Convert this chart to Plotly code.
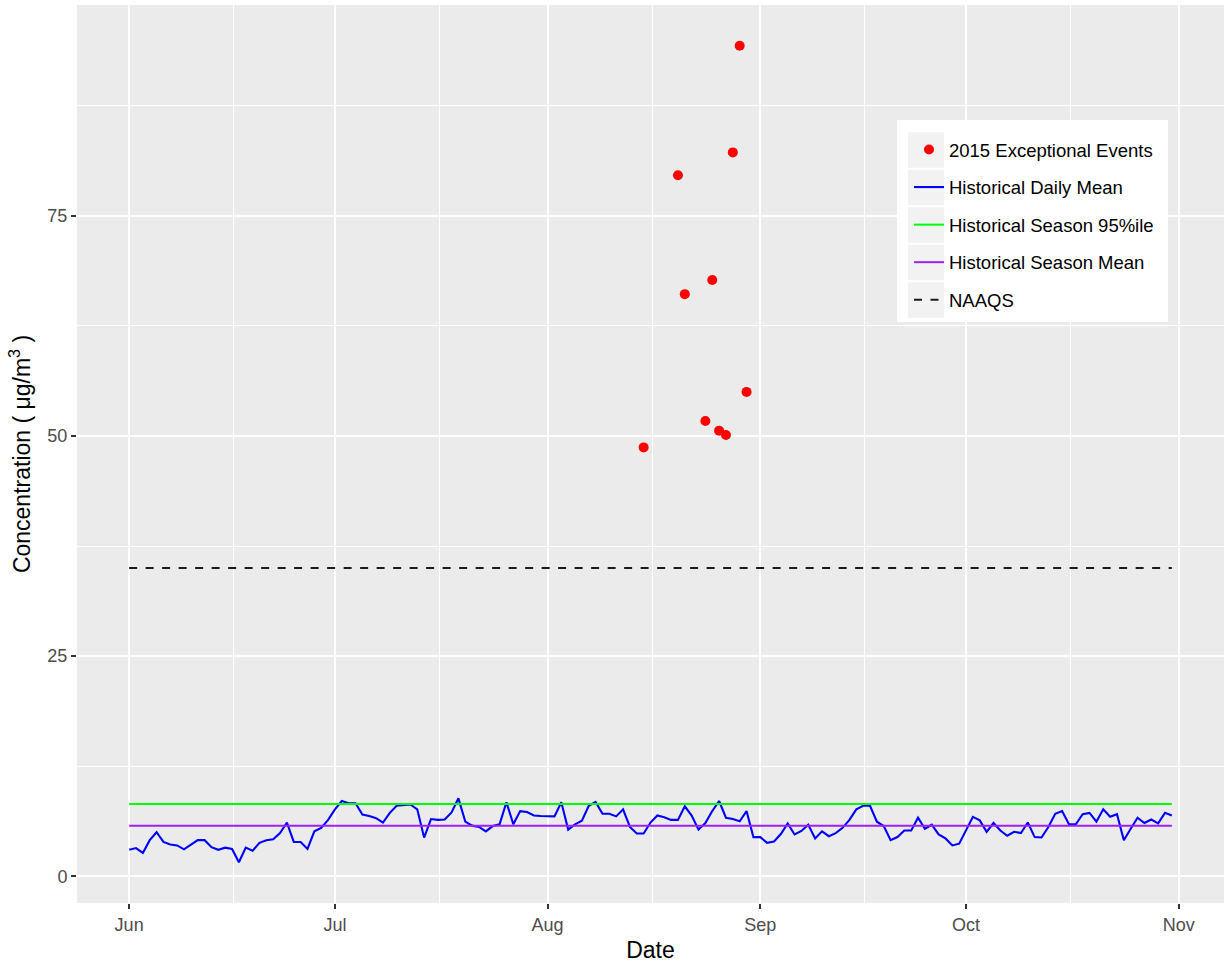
import pandas as pd
import plotly.graph_objects as go

# ---------------- data ----------------
start_date = "2015-06-01"
end_date = "2015-10-31"

daily_mean = [
    3.0, 3.2, 2.65, 4.1, 5.0, 3.9, 3.6, 3.5, 3.06, 3.6,
    4.1, 4.1, 3.3, 3.0, 3.25, 3.1, 1.6, 3.25, 2.9, 3.8,
    4.1, 4.2, 4.9, 6.1, 3.9, 3.9, 3.1, 5.1, 5.5, 6.4,
    7.6, 8.55, 8.3, 8.3, 7.0, 6.85, 6.6, 6.1, 7.2, 8.0,
    8.1, 8.15, 7.6, 4.4, 6.5, 6.4, 6.45, 7.25, 8.85,
    6.2, 5.75, 5.6, 5.1, 5.7, 5.9, 8.4, 5.9, 7.4, 7.3,
    6.9, 6.85, 6.85, 6.8, 8.4, 5.3, 5.9, 6.3, 8.0, 8.45,
    7.1, 7.1, 6.8, 7.6, 5.6, 4.85, 4.85, 6.1, 6.9, 6.7,
    6.4, 6.4, 7.95, 6.9, 5.3, 6.05, 7.4, 8.55, 6.65, 6.5,
    6.25, 7.4, 4.45, 4.45, 3.8, 3.95, 4.8, 6.0, 4.75, 5.15,
    5.85, 4.3, 5.1, 4.55, 4.9, 5.5, 6.4, 7.6, 8.0, 8.0,
    6.2, 5.7, 4.1, 4.45, 5.2, 5.2, 6.65, 5.4, 5.85, 4.75,
    4.3, 3.5, 3.7, 5.15, 6.75, 6.35, 5.05, 6.05, 5.2, 4.6,
    5.05, 4.9, 6.1, 4.45, 4.4, 5.6, 7.1, 7.4, 5.9, 5.9,
    7.05, 7.2, 6.2, 7.6, 6.75, 7.05, 4.1, 5.4, 6.65, 6.05,
    6.45, 6.0, 7.2, 6.9,
]

event_dates = ["2015-08-15", "2015-08-20", "2015-08-21", "2015-08-24", "2015-08-25",
               "2015-08-26", "2015-08-27", "2015-08-28", "2015-08-29", "2015-08-30"]
event_values = [48.7, 79.6, 66.1, 51.7, 67.7, 50.6, 50.1, 82.2, 94.3, 55.0]

season_p95 = 8.2
season_mean = 5.75
naaqs = 35

legend_names = ["2015 Exceptional Events", "Historical Daily Mean",
                "Historical Season 95%ile", "Historical Season Mean", "NAAQS"]

y_ticks = [0, 25, 50, 75]
# --------------------------------------

dates = pd.date_range(start_date, end_date, freq="D")
line_x = [dates[0], dates[-1]]

W, H = 1225, 963
ML, MR, MT, MB = 77, 1, 5, 60
PW, PH = W - ML - MR, H - MT - MB

def px(x):
    return (x - ML) / PW

def py(y):
    return (H - MB - y) / PH

FONT = "Liberation Sans, Arial, sans-serif"

fig = go.Figure()

fig.add_trace(go.Scatter(x=dates, y=daily_mean, mode="lines", name=legend_names[1],
                         line=dict(color="#0000FF", width=2.1), legendrank=2, legendgroup="b"))
fig.add_trace(go.Scatter(x=line_x, y=[season_p95, season_p95], mode="lines", name=legend_names[2],
                         line=dict(color="#00FF00", width=2), legendrank=3, legendgroup="c"))
fig.add_trace(go.Scatter(x=line_x, y=[season_mean, season_mean], mode="lines", name=legend_names[3],
                         line=dict(color="#A020F0", width=2), legendrank=4, legendgroup="d"))
fig.add_trace(go.Scatter(x=line_x, y=[naaqs, naaqs], mode="lines", name=legend_names[4],
                         line=dict(color="#1a1a1a", width=2, dash="8px,8.5px"), legendrank=5, legendgroup="e"))
fig.add_trace(go.Scatter(x=event_dates, y=event_values, mode="markers", name=legend_names[0],
                         marker=dict(color="#FF0000", size=10), legendrank=1, legendgroup="a"))

# expansion of 5% like ggplot
span = dates[-1] - dates[0]
x_range = [dates[0] - span * 0.05, dates[-1] + span * 0.05]
all_y = daily_mean + event_values
yspan = max(all_y) - min(all_y)
y_range = [min(all_y) - 0.05 * yspan, max(all_y) + 0.05 * yspan]

shapes = []
# legend background and key boxes
shapes.append(dict(type="rect", xref="paper", yref="paper", x0=px(897), x1=px(1168),
                   y0=py(322), y1=py(120), fillcolor="white", line=dict(width=0), layer="above"))
for i in range(5):
    top = 132.3 + i * 37.5
    shapes.append(dict(type="rect", xref="paper", yref="paper", x0=px(908), x1=px(944),
                       y0=py(top + 35.5), y1=py(top), fillcolor="#F2F2F2", line=dict(width=0), layer="above"))

fig.update_layout(
    width=W, height=H,
    margin=dict(l=ML, r=MR, t=MT, b=MB, autoexpand=False),
    paper_bgcolor="white",
    plot_bgcolor="#EBEBEB",
    font=dict(family=FONT, size=18, color="#4D4D4D"),
    showlegend=True,
    legend=dict(x=px(909), y=py(131), xanchor="left", yanchor="top",
                bgcolor="rgba(0,0,0,0)", borderwidth=0,
                font=dict(family=FONT, size=18.5, color="black"),
                tracegroupgap=10.5, itemwidth=30),
    shapes=shapes,
    xaxis=dict(
        type="date", range=x_range, automargin=False,
        tick0=start_date, dtick="M1", tickformat="%b",
        showgrid=True, gridcolor="white", gridwidth=2,
        minor=dict(tick0="2015-06-16 06:00", dtick="M1", showgrid=True,
                   gridcolor="white", gridwidth=1, ticks=""),
        ticks="outside", ticklen=5, tickwidth=1.5, tickcolor="#333333",
        tickfont=dict(family=FONT, size=18, color="#4D4D4D"),
        showline=False, zeroline=False,
        title=dict(text="Date", font=dict(family=FONT, size=23, color="black")),
    ),
    yaxis=dict(
        range=y_range, automargin=False,
        tickvals=y_ticks,
        showgrid=True, gridcolor="white", gridwidth=2,
        minor=dict(tick0=0, dtick=12.5, showgrid=True, gridcolor="white", gridwidth=1, ticks=""),
        ticks="outside", ticklen=5, tickwidth=1.5, tickcolor="#333333",
        tickfont=dict(family=FONT, size=18, color="#4D4D4D"),
        showline=False, zeroline=False,
        title=dict(text="Concentration ( μg/m<sup>3</sup> )",
                   font=dict(family=FONT, size=23, color="black"), standoff=10),
    ),
)

fig.write_html("out.html", config={"displayModeBar": False},
               post_script="document.body.style.margin='0px';")
